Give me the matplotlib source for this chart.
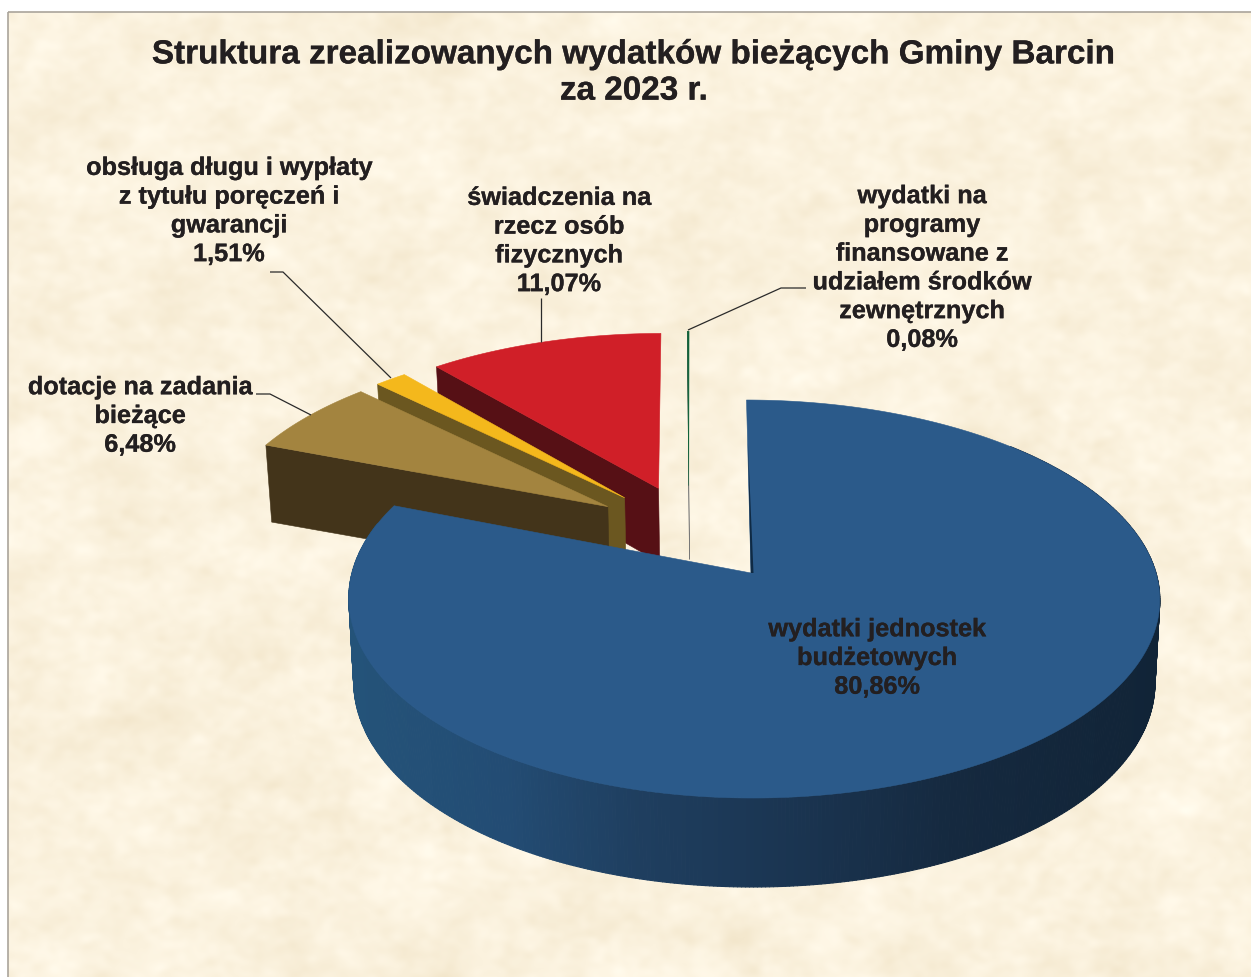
import numpy as np
import matplotlib
matplotlib.use("Agg")
import matplotlib.pyplot as plt
import matplotlib.patheffects as pe
from matplotlib.collections import PolyCollection
from matplotlib.colors import LinearSegmentedColormap
from matplotlib.patches import Polygon, Rectangle

# values, clockwise from 12 o'clock
categories = [
    "wydatki jednostek\nbudżetowych",
    "dotacje na zadania\nbieżące",
    "obsługa długu i wypłaty\nz tytułu poręczeń i\ngwarancji",
    "świadczenia na\nrzecz osób\nfizycznych",
    "wydatki na\nprogramy\nfinansowane z\nudziałem środków\nzewnętrznych",
]
shares = [80.86, 6.48, 1.51, 11.07, 0.08]
share_labels = ["80,86%", "6,48%", "1,51%", "11,07%", "0,08%"]
title = "Struktura zrealizowanych wydatków bieżących Gminy Barcin\nza 2023 r."

top_colors = ["#2b5a8a", "#a3843f", "#f4b81c", "#d01f28", "#0f6238"]
face_colors = ["#0f2a44", "#43341a", "#6b5720", "#561015", "#777777"]
label_xy = [(877, 658), (140, 416), (229, 211), (559, 241), (922, 268)]
x_nudge = [0, 0, 0, 0, -4]
x_radius = [402.0, 406.0, 406.0, 406.0, 406.0]

W, H = 1251, 977
TEXT = "#231f20"
plt.rcParams["font.family"] = ["Liberation Sans", "DejaVu Sans"]

# fake 3D camera, fitted to the picture
CX, CY, B, K = 751.0, 573.0, 195.6, 0.1307
EXPLODE = 0.26


def top_xy(x, y, a):
    w = 1 + K * y
    return CX + a * x / w - 3.0 * y - 1.5 * y ** 2, CY - B * y / w


def bottom_xy(x, y, a):
    sx, sy = top_xy(x, y, a)
    depth = 74 + 0.0487 * (sy - 490) + 2.2e-5 * (sx - CX) ** 2
    return CX + 0.988 * (sx - CX), sy + depth


fig = plt.figure(figsize=(W / 100, H / 100), dpi=100)
ax = fig.add_axes([0, 0, 1, 1])

# parchment background
rng = np.random.default_rng(7)
tex = np.zeros((H, W))
for cut, amp in [(12, 0.7), (30, 0.8), (70, 0.6)]:
    f = np.fft.rfft2(rng.normal(size=(H, W)))
    fy = np.fft.fftfreq(H)[:, None] * H
    fx = np.fft.rfftfreq(W)[None, :] * W
    n = np.fft.irfft2(f * np.exp(-(fx ** 2 + fy ** 2) / cut ** 2), s=(H, W))
    tex += amp * n / n.std()
tex /= tex.std()
base = np.array([251, 242, 222]) / 255
tint = np.array([0.007, 0.010, 0.016])
paper = np.clip(base[None, None, :] + tex[:, :, None] * tint, 0, 1)
ax.imshow(paper, extent=(8, W, H, 12), aspect="auto", zorder=0, interpolation="bilinear")
ax.add_patch(Rectangle((8, 12), W, H, fill=False, ec="#aaa49b", lw=1.2, zorder=1))

# angles
edges = np.radians(np.concatenate([[0], np.cumsum(shares)]) * 3.6)
mids = (edges[:-1] + edges[1:]) / 2
cx0 = -EXPLODE * np.sin(mids[0])
cy0 = -EXPLODE * np.cos(mids[0])
apexes = [(cx0 + EXPLODE * np.sin(m), cy0 + EXPLODE * np.cos(m)) for m in mids]

rim_cmap = LinearSegmentedColormap.from_list(
    "rim",
    [(0.0, "#245379"), (0.19, "#234c74"), (0.35, "#1f3f60"),
     (0.56, "#1a3450"), (0.75, "#15293f"), (1.0, "#112437")],
)

z = 3
for i in [4, 3, 2, 1, 0]:
    ax0, ay0 = apexes[i]
    a = x_radius[i]
    th = np.linspace(edges[i], edges[i + 1], max(int(np.degrees(edges[i + 1] - edges[i]) * 2), 2))
    rx, ry = ax0 + np.sin(th), ay0 + np.cos(th)
    tx, ty = top_xy(rx, ry, a)
    bx, by = bottom_xy(rx, ry, a)
    atx, aty = top_xy(ax0, ay0, a)
    abx, aby = bottom_xy(ax0, ay0, a)
    tx, bx, atx, abx = tx + x_nudge[i], bx + x_nudge[i], atx + x_nudge[i], abx + x_nudge[i]

    if i == 0:
        # big slice sits a little to the right at its widest
        tx = tx + 3.0 * np.sin(th) ** 2
        bx = bx + 3.0 * np.sin(th) ** 2
        # outer rim, coloured by screen x; the back of the rim is never seen
        quads, cols = [], []
        for j in range(len(th) - 1):
            if not np.radians(45) < th[j] < np.radians(285):
                continue
            quads.append([(tx[j], ty[j]), (tx[j + 1], ty[j + 1]), (bx[j + 1], by[j + 1]), (bx[j], by[j])])
            cols.append(rim_cmap((tx[j] - 350) / 810))
        ax.add_collection(PolyCollection(quads, facecolors=cols, edgecolors=cols, linewidths=0.8, zorder=z))
        z += 1
    else:
        # cut face on the left edge of the slice
        ax.add_patch(Polygon([(tx[0], ty[0]), (atx, aty), (abx, aby), (bx[0], by[0])],
                             closed=True, fc=face_colors[i], ec=face_colors[i], lw=0.4, zorder=z))
        z += 1
    pts = [(atx, aty)] + list(zip(tx, ty))
    ax.add_patch(Polygon(pts, closed=True, fc=top_colors[i], ec=top_colors[i], lw=0.4, zorder=z))
    z += 1
    if i == 0:
        # thin dark sliver along the first cut of the big slice
        sx = tx[0] + 0.25 * (atx - tx[0]) + 0.3
        sy = ty[0] + 0.25 * (aty - ty[0])
        ax.add_patch(Polygon([(atx - 0.2, aty), (atx + 2.5, aty), (sx, sy)],
                             closed=True, fc=face_colors[0], ec="none", zorder=z))
        z += 1

# labels
stroke = [pe.withStroke(linewidth=0.2, foreground=TEXT)]
ax.text(634, 73, title, ha="center", va="center", fontsize=23.95, fontweight="bold",
        color=TEXT, linespacing=1.22, zorder=20, path_effects=stroke)
for name, pct, (lx, ly) in zip(categories, share_labels, label_xy):
    ax.text(lx, ly, name + "\n" + pct, ha="center", va="center", fontsize=18.2, fontweight="bold",
            color=TEXT, linespacing=1.25, zorder=20, path_effects=stroke)

# leader lines
leaders = [
    [(256, 394), (270, 394), (311, 415)],
    [(270, 272), (283, 272), (391, 378)],
    [(541, 298), (541, 342)],
    [(806, 288), (781, 288), (688, 330)],
]
for pts in leaders:
    xs, ys = zip(*pts)
    ax.plot(xs, ys, color="#2a2a2a", lw=0.9, zorder=15, solid_capstyle="butt")

ax.set_xlim(0, W)
ax.set_ylim(H, 0)
ax.axis("off")
fig.savefig("out.png", dpi=100, facecolor="white")
